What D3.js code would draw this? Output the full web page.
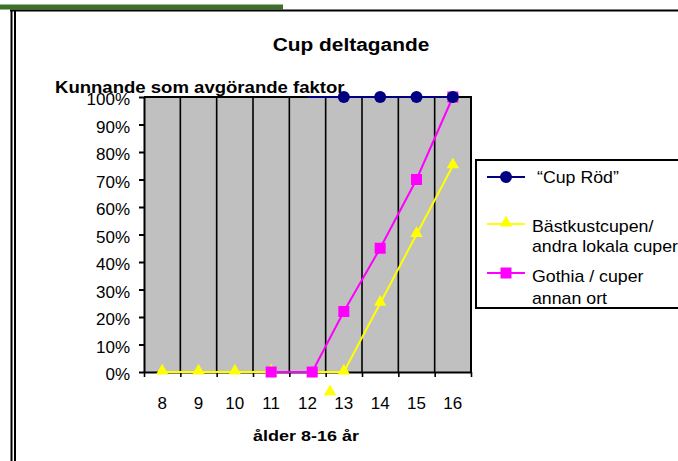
<!DOCTYPE html>
<html>
<head>
<meta charset="utf-8">
<script src="https://cdn.jsdelivr.net/npm/d3@7"></script>
<style>
  body { margin: 0; background: #fff; }
  svg { display: block; }
  text { font-family: "Liberation Sans", Arial, sans-serif; fill: #000; }
</style>
</head>
<body>
<svg class="chart" width="678" height="461"></svg>
<script>
// ages on the x axis
const ages = [8, 9, 10, 11, 12, 13, 14, 15, 16];
const yTicks = [0, 10, 20, 30, 40, 50, 60, 70, 80, 90, 100];

// "Cup Röd" - line starts at 12, markers only from 13
const cupRodAges = [12, 13, 14, 15, 16];
const cupRod = [100, 100, 100, 100, 100];

// Bästkustcupen / andra lokala cuper
const bastkustAges = [8, 9, 10, 11, 12, 13, 14, 15, 16];
const bastkust = [0, 0, 0, 0, 0, 0, 25, 50, 75];
// the marker for 12 sits below the axis in the original
const bastkustMarkerAges = [8, 9, 10, 11, 12.62, 13, 14, 15, 16];
const bastkustMarkers = [0, 0, 0, 0, -7.5, 0, 25, 50, 75];

// Gothia / cuper annan ort
const gothiaAges = [11, 12.13, 13, 14, 15, 16];
const gothia = [0, 0, 22, 45, 70, 100];

const legendLabels = [["\u201cCup Röd\u201d"], ["Bästkustcupen/", "andra lokala cuper"], ["Gothia / cuper", "annan  ort"]];

const NAVY = "#000080", YELLOW = "#ffff00", MAGENTA = "#ff00ff";
const STRETCH = 1.16;

var chart = d3.select(".chart");

// page frame: green strip, top rule and double left rule
chart.append("rect").attr("x", 0).attr("y", 4.5).attr("width", 283).attr("height", 5).attr("fill", "#3a7227");
chart.append("rect").attr("x", 10).attr("y", 9.5).attr("width", 668).attr("height", 2).attr("fill", "#000");
chart.append("rect").attr("x", 10.5).attr("y", 10).attr("width", 2).attr("height", 451).attr("fill", "#000");
chart.append("rect").attr("x", 14).attr("y", 10).attr("width", 2).attr("height", 451).attr("fill", "#000");

// stretched text helper
function label(g, str, x, y, size, weight, anchor, sx) {
  return g.append("text")
    .attr("transform", "translate(" + x + "," + y + ") scale(" + (sx || 1) + ",1)")
    .attr("font-size", size + "px")
    .attr("font-weight", weight || "normal")
    .attr("text-anchor", anchor || "start")
    .text(str);
}

var x = d3.scaleLinear().domain([7.5, 16.5]).range([144, 471]);
var y = d3.scaleLinear().domain([0, 100]).range([372, 97]);

// plot area
chart.append("rect")
  .attr("x", x(7.5)).attr("y", y(100))
  .attr("width", x(16.5) - x(7.5)).attr("height", y(0) - y(100))
  .attr("fill", "#c0c0c0");

// vertical gridlines at category boundaries
chart.append("g").selectAll("line")
  .data(ages.slice(1))
  .enter().append("line")
  .attr("x1", d => x(d - 0.5)).attr("x2", d => x(d - 0.5))
  .attr("y1", y(100)).attr("y2", y(0))
  .attr("stroke", "#000").attr("stroke-width", 1.6);

// top and right border
chart.append("path")
  .attr("d", "M" + x(7.5) + "," + y(100) + "H" + x(16.5) + "V" + y(0))
  .attr("fill", "none").attr("stroke", "#000").attr("stroke-width", 2);

// y axis
var yAxis = chart.append("g")
  .attr("transform", "translate(" + x(7.5) + ",0)")
  .call(d3.axisLeft(y).tickValues(yTicks).tickSize(5).tickSizeOuter(0).tickFormat(d => d + "%"));
yAxis.select(".domain").attr("stroke", "#000").attr("stroke-width", 2);
yAxis.selectAll(".tick line").attr("stroke", "#000").attr("stroke-width", 2);
yAxis.selectAll(".tick text")
  .attr("x", -14).attr("dy", "0.45em")
  .attr("font-family", "Liberation Sans, Arial, sans-serif")
  .attr("font-size", "17px").attr("fill", "#000");

// x axis (ticks at category boundaries)
var xAxis = chart.append("g")
  .attr("transform", "translate(0," + y(0) + ")")
  .call(d3.axisBottom(x).tickValues(ages.map(d => d - 0.5).concat([16.5])).tickSize(5).tickSizeOuter(0).tickFormat(""));
xAxis.select(".domain").attr("stroke", "#000").attr("stroke-width", 2);
xAxis.selectAll(".tick line").attr("stroke", "#000").attr("stroke-width", 1.6);

chart.append("g").selectAll("text")
  .data(ages)
  .enter().append("text")
  .attr("x", d => x(d)).attr("y", 409)
  .attr("text-anchor", "middle")
  .attr("font-size", "17px")
  .text(d => d);

// series
var line = d3.line().x(d => x(d[0])).y(d => y(d[1]));

function zipped(a, b) { return a.map((d, i) => [d, b[i]]); }

chart.append("path").datum(zipped(bastkustAges, bastkust))
  .attr("d", line).attr("fill", "none").attr("stroke", YELLOW).attr("stroke-width", 2);
chart.append("path").datum(zipped(gothiaAges, gothia))
  .attr("d", line).attr("fill", "none").attr("stroke", MAGENTA).attr("stroke-width", 2);
chart.append("path").datum(zipped(cupRodAges, cupRod))
  .attr("d", line).attr("fill", "none").attr("stroke", NAVY).attr("stroke-width", 2);

var triangle = d3.symbol().type(d3.symbolTriangle).size(66);

chart.append("g").selectAll("path")
  .data(zipped(bastkustMarkerAges, bastkustMarkers))
  .enter().append("path")
  .attr("d", triangle)
  .attr("transform", d => "translate(" + x(d[0]) + "," + (y(d[1]) - 1) + ")")
  .attr("fill", YELLOW);

chart.append("g").selectAll("rect")
  .data(zipped(gothiaAges, gothia))
  .enter().append("rect")
  .attr("x", d => x(d[0]) - 5.5).attr("y", d => y(d[1]) - 5.5)
  .attr("width", 11).attr("height", 11)
  .attr("fill", MAGENTA);

chart.append("g").selectAll("circle")
  .data(zipped(cupRodAges, cupRod).filter(d => d[0] >= 13))
  .enter().append("circle")
  .attr("cx", d => x(d[0])).attr("cy", d => y(d[1]))
  .attr("r", 6).attr("fill", NAVY);

// titles
label(chart, "Cup deltagande", 351, 51, 18, "bold", "middle", STRETCH);
label(chart, "Kunnande som avgörande faktor", 55, 92.5, 16, "bold", "start", STRETCH);
label(chart, "ålder 8-16 år", 306, 441, 15.5, "bold", "middle", STRETCH);

// legend
var legend = chart.append("g");
legend.append("rect")
  .attr("x", 476).attr("y", 160).attr("width", 220).attr("height", 148)
  .attr("fill", "#fff").attr("stroke", "#000").attr("stroke-width", 2);

var legendRows = [
  { y: 177, color: NAVY, marker: "circle", textX: 537, baselines: [183] },
  { y: 224, color: YELLOW, marker: "triangle", textX: 532, baselines: [232, 252] },
  { y: 273, color: MAGENTA, marker: "square", textX: 532, baselines: [282, 304] }
];

legendRows.forEach(function(r, i) {
  legend.append("line")
    .attr("x1", 487).attr("x2", 525).attr("y1", r.y).attr("y2", r.y)
    .attr("stroke", r.color).attr("stroke-width", 2);
  if (r.marker == "circle") {
    legend.append("circle").attr("cx", 506).attr("cy", r.y).attr("r", 6).attr("fill", r.color);
  } else if (r.marker == "triangle") {
    legend.append("path").attr("d", triangle).attr("transform", "translate(506," + (r.y - 1) + ")").attr("fill", r.color);
  } else {
    legend.append("rect").attr("x", 500.5).attr("y", r.y - 5.5).attr("width", 11).attr("height", 11).attr("fill", r.color);
  }
  legendLabels[i].forEach(function(t, j) {
    label(legend, t, r.textX, r.baselines[j], 16, "normal", "start", 1.11);
  });
});
</script>
</body>
</html>
